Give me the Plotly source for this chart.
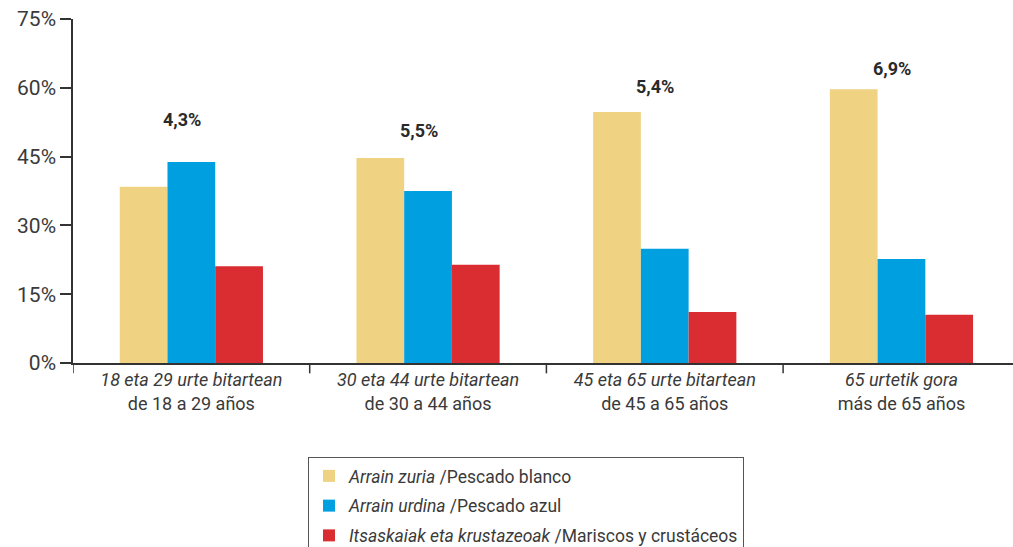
import plotly.graph_objects as go

categories = [
    "<i>18 eta 29 urte bitartean</i><br>de 18 a 29 años",
    "<i>30 eta 44 urte bitartean</i><br>de 30 a 44 años",
    "<i>45 eta 65 urte bitartean</i><br>de 45 a 65 años",
    "<i>65 urtetik gora</i><br>más de 65 años",
]
series_names = [
    "<i>Arrain zuria</i> /Pescado blanco",
    "<i>Arrain urdina</i> /Pescado azul",
    "<i>Itsaskaiak eta krustazeoak</i> /Mariscos y crustáceos",
]
pescado_blanco = [38.4, 44.7, 54.7, 59.7]
pescado_azul = [43.8, 37.5, 24.9, 22.7]
mariscos = [21.1, 21.4, 11.1, 10.5]
group_labels = ["4,3%", "5,5%", "5,4%", "6,9%"]
group_label_heights = [53.0, 50.8, 60.2, 64.1]
y_ticks = [0, 15, 30, 45, 60, 75]
y_ticktext = ["0%", "15%", "30%", "45%", "60%", "75%"]

colors = ["#F0D283", "#00A0E0", "#D92D31"]
series_values = [pescado_blanco, pescado_azul, mariscos]

FONT = "Roboto, sans-serif"
xidx = list(range(len(categories)))

fig = go.Figure()
for k, (name, vals, col) in enumerate(zip(series_names, series_values, colors)):
    fig.add_trace(go.Bar(x=xidx, y=vals, name=name, legendgroup=f"g{k}",
                         marker=dict(color=col, line=dict(width=0))))

for i, (lab, h) in enumerate(zip(group_labels, group_label_heights)):
    fig.add_annotation(x=i - 0.04, y=h, text="<b>" + lab + "</b>", showarrow=False,
                       font=dict(family=FONT, size=18, color="#2a2a2a"))

fig.update_layout(
    width=1013, height=547,
    margin=dict(l=73, r=0, t=19, b=184, autoexpand=False),
    paper_bgcolor="white", plot_bgcolor="white",
    barmode="group", bargap=0.395, bargroupgap=0,
    font=dict(family=FONT, size=18, color="#3a3a3a"),
    showlegend=True,
    legend=dict(
        x=308 / 1013, y=1 - 457 / 547, xref="container", yref="container",
        xanchor="left", yanchor="top",
        bordercolor="#555555", borderwidth=1, bgcolor="white",
        font=dict(family=FONT, size=17.5, color="#3a3a3a"),
        tracegroupgap=4, itemwidth=30,
    ),
)
fig.update_xaxes(
    type="linear", range=[-0.5, -0.5 + 940 / 236.7], automargin=False,
    tickmode="array", tickvals=xidx, ticktext=categories,
    ticks="", showline=True, linecolor="#333333", linewidth=1.5,
    showgrid=False, zeroline=False,
    tickfont=dict(family=FONT, size=18, color="#3a3a3a"),
)
# boundary ticks
for b in [-0.5, 0.5, 1.5, 2.5]:
    fig.add_shape(type="line", xref="x", yref="paper", x0=b, x1=b, y0=0, y1=-0.03,
                  line=dict(color="#333333", width=1.5))
fig.update_yaxes(
    range=[0, 75], tickmode="array", tickvals=y_ticks, ticktext=y_ticktext,
    ticks="outside", ticklen=11, tickwidth=1.5, tickcolor="#333333", automargin=False,
    showline=True, linecolor="#333333", linewidth=1.5,
    showgrid=False, zeroline=False,
    tickfont=dict(family=FONT, size=21, color="#3a3a3a"),
)
fig.write_html("out.html", config={"displayModeBar": False},
               post_script="document.body.style.margin='0px';document.body.style.overflow='hidden';")
